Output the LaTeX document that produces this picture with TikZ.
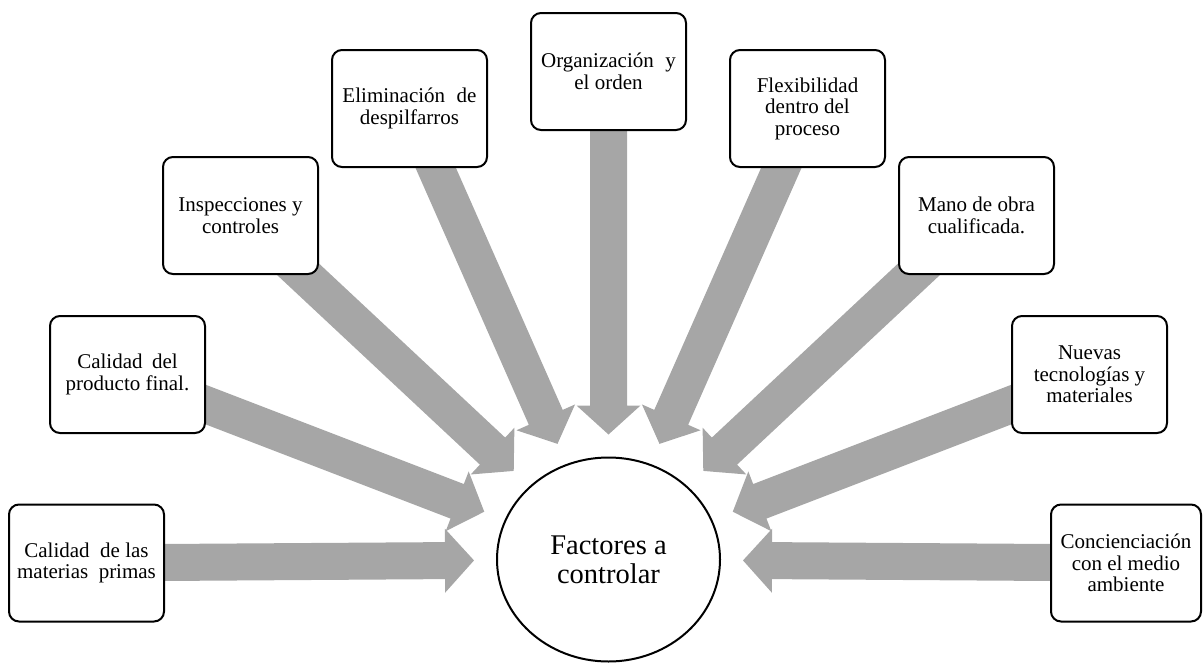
\documentclass[tikz,border=0pt]{standalone}
\usepackage{fontspec}
\setmainfont{Liberation Serif}
\usetikzlibrary{calc,shapes.geometric,backgrounds}
\definecolor{arrowgray}{HTML}{A6A6A6}
\tikzset{
  factor/.style={draw=black, line width=2pt, rounded corners=10pt, fill=white,
    minimum width=155pt, minimum height=117pt, inner sep=2pt, align=center,
    font=\fontsize{21}{21.5}\selectfont},
  hub/.style={draw=black, line width=2pt, ellipse, fill=white,
    minimum width=223pt, minimum height=204pt, inner sep=0pt, align=center,
    font=\fontsize{28.5}{29}\selectfont},
  radial/.style={fill=arrowgray}
}
% Block arrow from box #1 towards the hub, stopping short of its border
\newcommand\radialarrow[1]{%
  \path (b#1.center) -- (c) coordinate[pos=1] (e#1);
  \coordinate (t#1) at ($(e#1)!22pt!(b#1.center)$);
  \coordinate (h#1) at ($(t#1)!29pt!(b#1.center)$);
  \fill[radial] ($(b#1.center)!18.5pt!90:(t#1)$) -- ($(h#1)!18.5pt!90:(t#1)$)
    -- ($(h#1)!32pt!90:(t#1)$) -- (t#1) -- ($(h#1)!32pt!-90:(t#1)$)
    -- ($(h#1)!18.5pt!-90:(t#1)$) -- ($(b#1.center)!18.5pt!-90:(t#1)$) -- cycle;
}
\begin{document}
\begin{tikzpicture}[x=1pt,y=-1pt]
\useasboundingbox (0,0) rectangle (1204,664);
\node[hub] (c) at (608.5,559.5) {Factores a\\controlar};
\node[factor] (b1) at (86.5,563) {Calidad\hspace{0.25em} de las\\materias\hspace{0.25em} primas};
\node[factor] (b2) at (127.5,374.5) {Calidad\hspace{0.2em} del\\producto final.};
\node[factor] (b3) at (240.5,215.5) {Inspecciones y\\controles};
\node[factor] (b4) at (409.5,108.5) {Eliminación\hspace{0.3em} de\\despilfarros};
\node[factor] (b5) at (608.5,71.5) {Organización\hspace{0.3em} y\\el orden};
\node[factor] (b6) at (807.5,108.5) {Flexibilidad\\dentro del\\proceso};
\node[factor] (b7) at (976.5,215.5) {Mano de obra\\cualificada.};
\node[factor] (b8) at (1089.5,374.5) {Nuevas\\tecnologías y\\materiales};
\node[factor, minimum width=150pt] (b9) at (1126,563) {Concienciación\\con el medio\\ambiente};
\begin{scope}[on background layer]
  \foreach \i in {1,...,9} {\radialarrow{\i}}
\end{scope}
\end{tikzpicture}
\end{document}
